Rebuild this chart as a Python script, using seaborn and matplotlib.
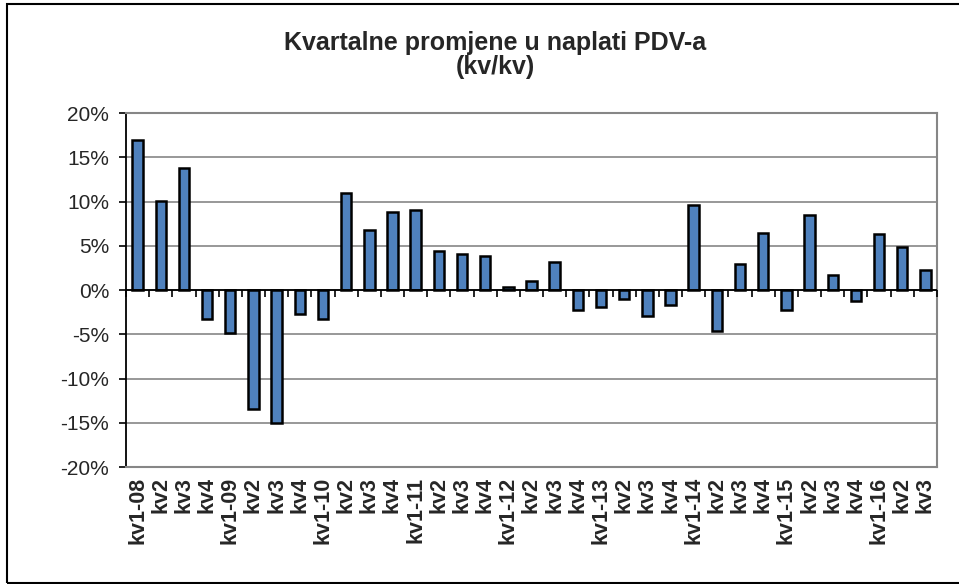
import numpy as np
import pandas as pd
import matplotlib
matplotlib.use("Agg")
import matplotlib.pyplot as plt
import matplotlib.patches as mpatches
from matplotlib.ticker import FuncFormatter
import seaborn as sns

# ---- data ----
quarters = ["kv1-08", "kv2", "kv3", "kv4",
            "kv1-09", "kv2", "kv3", "kv4",
            "kv1-10", "kv2", "kv3", "kv4",
            "kv1-11", "kv2", "kv3", "kv4",
            "kv1-12", "kv2", "kv3", "kv4",
            "kv1-13", "kv2", "kv3", "kv4",
            "kv1-14", "kv2", "kv3", "kv4",
            "kv1-15", "kv2", "kv3", "kv4",
            "kv1-16", "kv2", "kv3"]
changes = [16.9, 10.1, 13.8, -3.3,
           -4.9, -13.4, -15.0, -2.7,
           -3.3, 11.0, 6.8, 8.8,
           9.0, 4.4, 4.1, 3.8,
           0.35, 1.05, 3.2, -2.25,
           -1.9, -0.97, -2.96, -1.65,
           9.6, -4.6, 2.9, 6.4,
           -2.25, 8.45, 1.65, -1.2,
           6.3, 4.9, 2.3]
yticks = [-20, -15, -10, -5, 0, 5, 10, 15, 20]
title = "Kvartalne promjene u naplati PDV-a\n(kv/kv)"

sns.set_style("white")
plt.rcParams["font.family"] = ["Liberation Sans", "DejaVu Sans"]

df = pd.DataFrame({"pos": np.arange(len(quarters)), "val": changes})

fig = plt.figure(figsize=(9.59, 5.84), dpi=100)
ax = fig.add_axes([126 / 959, 1 - 467 / 584, (937 - 126) / 959, (467 - 113) / 584])

sns.barplot(data=df, x="pos", y="val", ax=ax, color="#4F81BD",
            saturation=1, width=0.45, edgecolor="black", linewidth=1.8,
            zorder=3)

ax.set_xlim(-0.5, len(quarters) - 0.5)
ax.set_ylim(min(yticks), max(yticks))
ax.set_yticks(yticks)
ax.yaxis.set_major_formatter(FuncFormatter(lambda v, p: f"{int(v)}%"))
ax.set_xticks(np.arange(len(quarters)))
ax.set_xticklabels(quarters, rotation=90, fontsize=15.5, fontweight="bold",
                   va="top", ha="center")
ax.tick_params(axis="x", length=0, pad=7)
ax.tick_params(axis="y", labelsize=15, length=5, width=1.2, color="black",
               direction="out", pad=7, left=True)
ax.set_xlabel("")
ax.set_ylabel("")

for yv in yticks:
    ax.axhline(yv, color="#868686", linewidth=1.2, zorder=1)
ax.axhline(0, color="black", linewidth=1.3, zorder=4)

# category-boundary tick marks on the zero line
bounds = np.arange(len(quarters) + 1) - 0.5
ax.plot(bounds, np.zeros_like(bounds), linestyle="none", marker=3,
        markersize=5, markeredgewidth=1.2, color="black", zorder=4, clip_on=False)

for side in ["top", "right", "bottom"]:
    ax.spines[side].set_color("#868686")
    ax.spines[side].set_linewidth(1.5)
ax.spines["left"].set_color("black")
ax.spines["left"].set_linewidth(1.3)

fig.text(495 / 959, 1 - 55 / 584, title, ha="center", va="center",
         fontsize=18, fontweight="bold", linespacing=1.0)

# outer chart border
fig.patches.append(mpatches.Rectangle((7 / 959, 1.5 / 584), 1.2, 1 - 5.5 / 584,
                                      transform=fig.transFigure, fill=False,
                                      edgecolor="black", linewidth=1.5))

fig.savefig("out.png", dpi=100)
